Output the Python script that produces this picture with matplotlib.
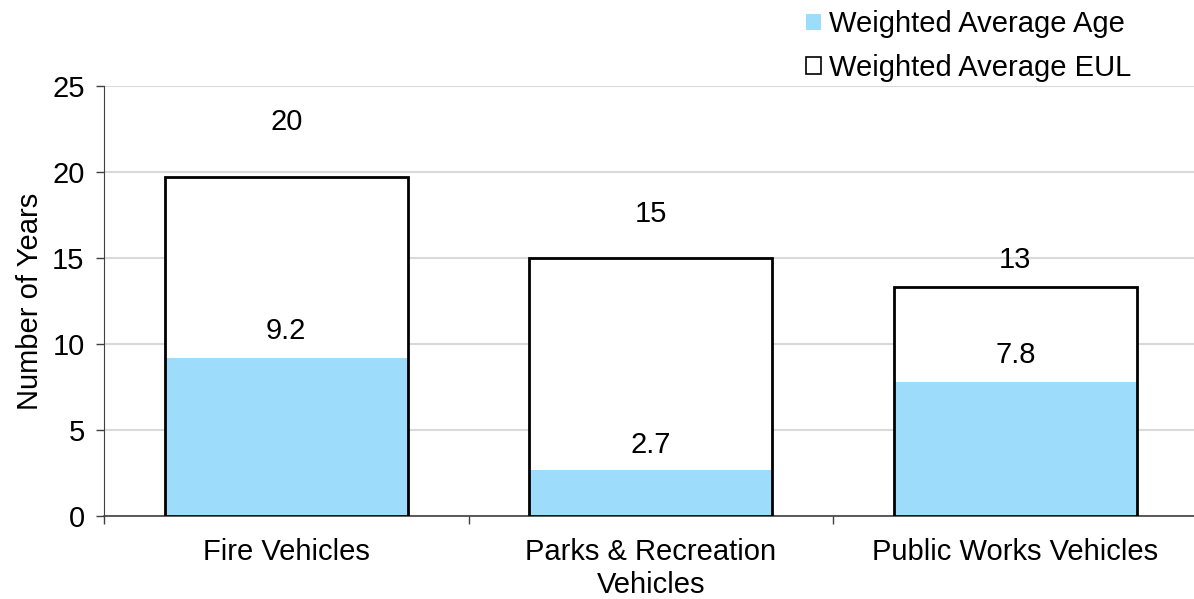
import matplotlib
matplotlib.use('Agg')
import matplotlib.pyplot as plt
from matplotlib.patches import Patch

plt.rcParams['font.family'] = ['Liberation Sans', 'DejaVu Sans']

categories = ['Fire Vehicles', 'Parks & Recreation\nVehicles', 'Public Works Vehicles']
eul_values = [19.7, 15.0, 13.3]
age_values = [9.2, 2.7, 7.8]
eul_labels = ['20', '15', '13']
age_labels = ['9.2', '2.7', '7.8']
# label offsets above bar tops (in data units), as placed in the original
eul_label_offsets = [3.2, 2.55, 1.6]
age_label_offsets = [1.55, 1.45, 1.55]

blue = '#9DDCFB'
fs = 21

fig = plt.figure(figsize=(11.94, 5.99), dpi=100)
ax = fig.add_axes([0.0871, 0.1386, 0.9159, 0.7178])

x = list(range(len(categories)))
width = 0.667

ax.bar(x, eul_values, width=width, color='white', edgecolor='none', zorder=2)
ax.bar(x, age_values, width=width, color=blue, edgecolor='none', zorder=3)
ax.bar(x, eul_values, width=width, fill=False, edgecolor='black', linewidth=2, zorder=4)

for xi, v, lab, off in zip(x, eul_values, eul_labels, eul_label_offsets):
    ax.text(xi, v + off, lab, ha='center', va='center', fontsize=fs, zorder=5)
for xi, v, lab, off in zip(x, age_values, age_labels, age_label_offsets):
    ax.text(xi, v + off, lab, ha='center', va='center', fontsize=fs, zorder=5)

ax.set_xlim(-0.5, len(categories) - 0.5)
ax.set_ylim(0, 25)
ax.set_yticks([0, 5, 10, 15, 20, 25])
ax.yaxis.grid(True, color='#D9D9D9', linewidth=1.5, zorder=0)
ax.set_axisbelow(True)

ax.set_xticks([i - 0.5 for i in range(len(categories) + 1)])
ax.set_xticklabels([])
ax.set_xticks(x, minor=True)
ax.set_xticklabels(categories, minor=True, fontsize=fs, linespacing=1.23)
ax.tick_params(axis='x', which='minor', length=0, pad=16)
ax.tick_params(axis='x', which='major', length=6, width=1, color='#404040')
ax.tick_params(axis='y', length=6, width=1, color='#404040', labelsize=fs, pad=8)

for side in ['top', 'right']:
    ax.spines[side].set_visible(False)
ax.spines['left'].set_color('#404040')
ax.spines['bottom'].set_color('#404040')
ax.spines['bottom'].set_linewidth(1.2)

ax.set_ylabel('Number of Years', fontsize=fs, labelpad=6)

handles = [
    Patch(facecolor=blue, edgecolor='none', label='Weighted Average Age'),
    Patch(facecolor='white', edgecolor='black', linewidth=1.2, label='Weighted Average EUL'),
]
fig.legend(handles=handles, loc='upper left', bbox_to_anchor=(0.675, 0.983), frameon=False,
           fontsize=fs, handlelength=0.5, handleheight=0.5, handletextpad=0.28,
           labelspacing=0.53, borderaxespad=0, borderpad=0)

fig.savefig('out.png', dpi=100)
